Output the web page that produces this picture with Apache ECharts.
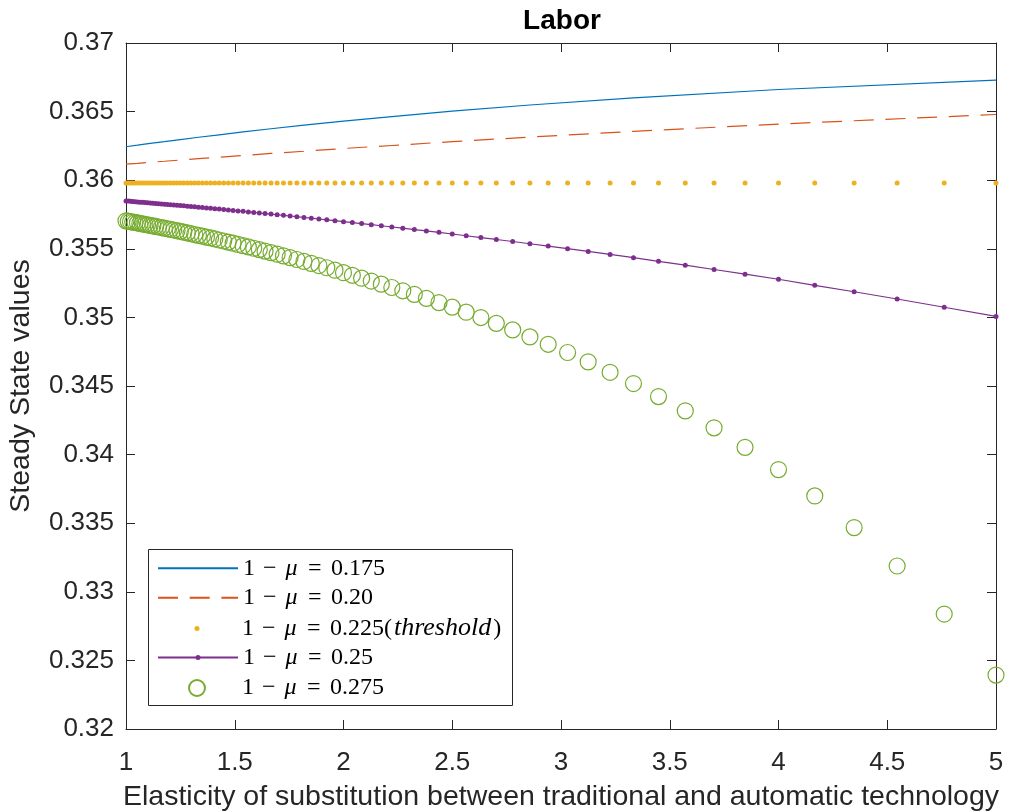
<!DOCTYPE html>
<html>
<head>
<meta charset="utf-8">
<script src="https://cdn.jsdelivr.net/npm/echarts@6/dist/echarts.min.js"></script>
<style>
  html, body { margin: 0; padding: 0; background: #fff; }
  #chart { width: 1016px; height: 812px; }
</style>
</head>
<body>
<div id="chart"></div>
<script>
// elasticity of substitution (x) for the marker series
const sigmaFine = [1, 1.0101, 1.0204, 1.0309, 1.0417, 1.0526, 1.0638, 1.0753, 1.0870, 1.0989, 1.1111,
  1.1236, 1.1364, 1.1494, 1.1628, 1.1765, 1.1905, 1.2048, 1.2195, 1.2346, 1.25,
  1.2658, 1.2821, 1.2987, 1.3158, 1.3333, 1.3514, 1.3699, 1.3889, 1.4085, 1.4286,
  1.4493, 1.4706, 1.4925, 1.5152, 1.5385, 1.5625, 1.5873, 1.6129, 1.6393, 1.6667,
  1.6949, 1.7241, 1.7544, 1.7857, 1.8182, 1.8519, 1.8868, 1.9231, 1.9608, 2,
  2.0408, 2.0833, 2.1277, 2.1739, 2.2222, 2.2727, 2.3256, 2.3810, 2.4390, 2.5,
  2.5641, 2.6316, 2.7027, 2.7778, 2.8571, 2.9412, 3.0303, 3.125, 3.2258, 3.3333,
  3.4483, 3.5714, 3.7037, 3.8462, 4, 4.1667, 4.3478, 4.5455, 4.7619, 5];

// x for the two plain lines
const sigmaCoarse = [1, 1.0526, 1.1111, 1.1765, 1.25, 1.3333, 1.4286, 1.5385, 1.6667, 1.8182,
  2, 2.2222, 2.5, 2.8571, 3.3333, 4, 5];

// steady state labor, one array per 1 - mu
const labor175 = [0.36244, 0.36255, 0.36268, 0.36281, 0.36296, 0.36313, 0.36331, 0.36352, 0.36375,
  0.36401, 0.3643, 0.36464, 0.36503, 0.36548, 0.366, 0.36661, 0.3673];

const labor200 = [0.36117, 0.36123, 0.36131, 0.36138, 0.36147, 0.36157, 0.36168, 0.3618, 0.36195,
  0.36211, 0.36231, 0.36253, 0.36281, 0.36314, 0.36356, 0.36409, 0.36479];

const labor225 = [0.3598, 0.3598, 0.3598, 0.3598, 0.3598, 0.3598, 0.3598, 0.3598, 0.3598, 0.3598, 0.3598,
  0.3598, 0.3598, 0.3598, 0.3598, 0.3598, 0.3598, 0.3598, 0.3598, 0.3598, 0.3598,
  0.3598, 0.3598, 0.3598, 0.3598, 0.3598, 0.3598, 0.3598, 0.3598, 0.3598, 0.3598,
  0.3598, 0.3598, 0.3598, 0.3598, 0.3598, 0.3598, 0.3598, 0.3598, 0.3598, 0.3598,
  0.3598, 0.3598, 0.3598, 0.3598, 0.3598, 0.3598, 0.3598, 0.3598, 0.3598, 0.3598,
  0.3598, 0.3598, 0.3598, 0.3598, 0.3598, 0.3598, 0.3598, 0.3598, 0.3598, 0.3598,
  0.3598, 0.3598, 0.3598, 0.3598, 0.3598, 0.3598, 0.3598, 0.3598, 0.3598, 0.3598,
  0.3598, 0.3598, 0.3598, 0.3598, 0.3598, 0.3598, 0.3598, 0.3598, 0.3598, 0.3598];

const labor250 = [0.35849, 0.35848, 0.35846, 0.35845, 0.35843, 0.35842, 0.3584, 0.35839, 0.35837, 0.35836, 0.35834,
  0.35832, 0.3583, 0.35829, 0.35827, 0.35825, 0.35823, 0.35821, 0.35819, 0.35817, 0.35815,
  0.35813, 0.3581, 0.35808, 0.35806, 0.35803, 0.35801, 0.35798, 0.35795, 0.35792, 0.3579,
  0.35786, 0.35783, 0.3578, 0.35776, 0.35773, 0.35769, 0.35765, 0.35761, 0.35757, 0.35753,
  0.35748, 0.35744, 0.35739, 0.35734, 0.35728, 0.35723, 0.35717, 0.35711, 0.35705, 0.35698,
  0.35691, 0.35684, 0.35676, 0.35668, 0.35659, 0.3565, 0.3564, 0.3563, 0.3562, 0.35608,
  0.35595, 0.35582, 0.35568, 0.35553, 0.35537, 0.3552, 0.35501, 0.35481, 0.35459, 0.35435,
  0.35409, 0.35381, 0.35349, 0.35315, 0.35278, 0.35234, 0.35187, 0.35134, 0.35074, 0.35007];

const labor275 = [0.35704, 0.35701, 0.35698, 0.35695, 0.35692, 0.35689, 0.35685, 0.35682, 0.35678, 0.35675, 0.35671,
  0.35667, 0.35663, 0.35659, 0.35655, 0.35651, 0.35646, 0.35641, 0.35637, 0.35632, 0.35627,
  0.35621, 0.35616, 0.3561, 0.35604, 0.35598, 0.35592, 0.35585, 0.35579, 0.35572, 0.35564,
  0.35557, 0.35549, 0.35541, 0.35532, 0.35523, 0.35514, 0.35504, 0.35494, 0.35483, 0.35472,
  0.35461, 0.35449, 0.35436, 0.35422, 0.35408, 0.35394, 0.35378, 0.35362, 0.35344, 0.35326,
  0.35307, 0.35286, 0.35265, 0.35242, 0.35218, 0.35194, 0.35168, 0.35139, 0.35108, 0.35075,
  0.35038, 0.34999, 0.34957, 0.34909, 0.34858, 0.34804, 0.34744, 0.34676, 0.346, 0.34518,
  0.34423, 0.34319, 0.34195, 0.34053, 0.33891, 0.33699, 0.33468, 0.33188, 0.32838, 0.32393];

const seriesNames = ['mu175', 'mu200', 'mu225', 'mu250', 'mu275'];

const chart = echarts.init(document.getElementById('chart'));
const axisColor = '#262626';
const sans = 'Liberation Sans, Arial, Helvetica, sans-serif';
const serif = 'Liberation Serif, Times New Roman, serif';

const pairs = (xs, ys) => xs.map((x, i) => [x, ys[i]]);

// latex-ish legend text: spacing around the operators done with padding
const txt = { fontFamily: serif, fontSize: 24, color: '#000', lineHeight: 26 };
const mathRich = {
  n: txt,
  i: Object.assign({}, txt, { fontStyle: 'italic', padding: [0, 1.2] }),
  t: Object.assign({}, txt, { fontStyle: 'italic', fontSize: 26, padding: [0, 2] }),
  m: Object.assign({}, txt, { padding: [0, 7.9] }),
  e: Object.assign({}, txt, { padding: [0, 9.3] })
};
const legendText = {
  mu175: '{n|1}{m|−}{i|μ}{e|=}{n|0.175}',
  mu200: '{n|1}{m|−}{i|μ}{e|=}{n|0.20}',
  mu225: '{n|1}{m|−}{i|μ}{e|=}{n|0.225(}{t|threshold}{n|)}',
  mu250: '{n|1}{m|−}{i|μ}{e|=}{n|0.25}',
  mu275: '{n|1}{m|−}{i|μ}{e|=}{n|0.275}'
};
const rowCenter = [569.3, 598.8, 628.6, 658.6, 689];
const iconHeight = [6, 6, 6.25, 6.25, 20];
// which legend icons keep their line / their marker
const iconLine = [true, true, false, true, false];
const iconDot = [false, false, true, true, true];

const legends = seriesNames.map((name, i) => ({
  data: [name],
  orient: 'vertical',
  left: 157,
  top: rowCenter[i] - 13,
  padding: 0,
  itemWidth: 80,
  itemHeight: iconHeight[i],
  selectedMode: false,
  formatter: n => legendText[n],
  textStyle: { rich: mathRich },
  itemStyle: iconDot[i] ? {} : { opacity: 0 },
  lineStyle: iconLine[i] ? {} : { opacity: 0 },
  z: 10
}));

const valueAxisBase = {
  type: 'value',
  axisLine: { show: true, onZero: false, lineStyle: { color: axisColor, width: 1 } },
  axisTick: { show: true, inside: true, length: 9, lineStyle: { color: axisColor } },
  splitLine: { show: false }
};

const option = {
  animation: false,
  backgroundColor: '#fff',
  title: {
    text: 'Labor',
    left: 557,
    top: 2,
    textAlign: 'center',
    textStyle: { fontFamily: sans, fontWeight: 'bold', fontSize: 28, color: '#000' }
  },
  grid: { left: 126, right: 20, top: 43, bottom: 83, containLabel: false, outerBoundsMode: 'none' },
  legend: legends,
  graphic: [{
    type: 'rect',
    shape: { x: 148.5, y: 549.5, width: 364, height: 156 },
    style: { fill: '#fff', stroke: axisColor, lineWidth: 1 },
    z: 5
  }],
  xAxis: [
    Object.assign({}, valueAxisBase, {
      position: 'bottom', min: 1, max: 5, interval: 0.5,
      axisLabel: { fontFamily: sans, fontSize: 26, color: axisColor, margin: 21 },
      name: 'Elasticity of substitution between traditional and automatic technology',
      nameLocation: 'middle', nameGap: 54,
      nameTextStyle: { fontFamily: sans, fontSize: 28.5, color: axisColor }
    }),
    Object.assign({}, valueAxisBase, {
      position: 'top', min: 1, max: 5, interval: 0.5, axisLabel: { show: false }
    })
  ],
  yAxis: [
    Object.assign({}, valueAxisBase, {
      position: 'left', min: 0.32, max: 0.37, interval: 0.005,
      axisLabel: {
        fontFamily: sans, fontSize: 26, color: axisColor, margin: 12,
        formatter: v => String(+v.toFixed(3))
      },
      name: 'Steady State values',
      nameLocation: 'middle', nameGap: 90,
      nameTextStyle: { fontFamily: sans, fontSize: 28.5, color: axisColor }
    }),
    Object.assign({}, valueAxisBase, {
      position: 'right', min: 0.32, max: 0.37, interval: 0.005, axisLabel: { show: false }
    })
  ],
  series: [
    {
      name: 'mu175', type: 'line', data: pairs(sigmaCoarse, labor175),
      symbol: 'none', lineStyle: { color: '#0072BD', width: 1.2 }, itemStyle: { color: '#0072BD' }
    },
    {
      name: 'mu200', type: 'line', data: pairs(sigmaCoarse, labor200),
      symbol: 'none', lineStyle: { color: '#D95319', width: 1.2, type: [20, 11.7] }, itemStyle: { color: '#D95319' }
    },
    {
      name: 'mu225', type: 'line', data: pairs(sigmaFine, labor225),
      symbol: 'circle', symbolSize: 5, showSymbol: true,
      lineStyle: { width: 0, opacity: 0 }, itemStyle: { color: '#EDB120' }
    },
    {
      name: 'mu250', type: 'line', data: pairs(sigmaFine, labor250),
      symbol: 'circle', symbolSize: 5, showSymbol: true,
      lineStyle: { color: '#7E2F8E', width: 1.2 }, itemStyle: { color: '#7E2F8E' }
    },
    {
      name: 'mu275', type: 'line', data: pairs(sigmaFine, labor275),
      symbol: 'circle', symbolSize: 16, showSymbol: true,
      lineStyle: { width: 0, opacity: 0 },
      itemStyle: { color: 'rgba(0,0,0,0)', borderColor: '#77AC30', borderWidth: 1.2 }
    }
  ]
};

chart.setOption(option);
</script>
</body>
</html>
